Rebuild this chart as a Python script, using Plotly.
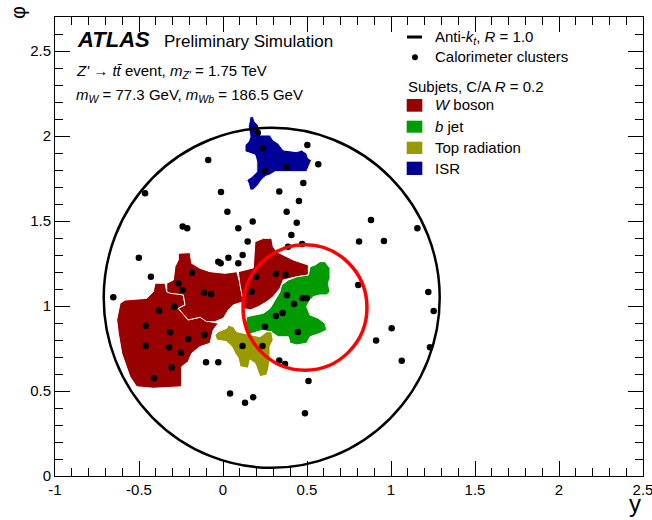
import plotly.graph_objects as go

# ---------------- axes ----------------
x_range = [-1.0, 2.5]
phi_range = [0.0, 2.7]
x_ticks = [-1, -0.5, 0, 0.5, 1, 1.5, 2, 2.5]
x_tick_labels = ["-1", "-0.5", "0", "0.5", "1", "1.5", "2", "2.5"]
phi_ticks = [0, 0.5, 1, 1.5, 2, 2.5]
phi_tick_labels = ["0", "0.5", "1", "1.5", "2", "2.5"]

# ---------------- jets ----------------
jet_center = (0.29, 1.048)      # anti-kt R = 1.0 jet axis (y, phi)
jet_radius = 1.0
ring_center = (0.488, 0.991)    # highlighted b-jet region
ring_radius = 0.369

# ---------------- subjets (cell outlines, y / phi) ----------------
w_sub1_y = [-0.583, -0.454, -0.415, -0.405, -0.345, -0.335, -0.236, -0.226, -0.266, -0.207,
            -0.137, -0.077, -0.028, -0.058, -0.077, -0.137, -0.186, -0.207, -0.246, -0.246,
            -0.415, -0.514, -0.554, -0.583, -0.603, -0.623, -0.633, -0.613]
w_sub1_phi = [1.035, 1.045, 1.084, 1.134, 1.134, 1.084, 1.065, 1.006, 0.986, 0.918,
              0.934, 0.908, 0.898, 0.859, 0.781, 0.761, 0.722, 0.672, 0.643, 0.525,
              0.516, 0.525, 0.584, 0.663, 0.722, 0.839, 0.918, 1.016]

w_sub2_y = [-0.266, -0.196, -0.186, -0.137, -0.077, 0.012, 0.082, 0.101, 0.121, 0.061,
            0.032, 0.002, -0.048, -0.097, -0.137, -0.207, -0.266, -0.226, -0.236, -0.315,
            -0.335, -0.335, -0.296, -0.286, -0.266]
w_sub2_phi = [1.310, 1.314, 1.251, 1.222, 1.202, 1.192, 1.202, 1.134, 1.025, 1.006,
              0.976, 0.928, 0.908, 0.908, 0.934, 0.918, 0.986, 1.006, 1.065, 1.075,
              1.084, 1.134, 1.153, 1.231, 1.271]

w_sub3_y = [0.091, 0.180, 0.190, 0.240, 0.290, 0.299, 0.320, 0.418, 0.508, 0.508,
            0.439, 0.359, 0.339, 0.299, 0.260, 0.210, 0.161, 0.121, 0.121, 0.101]
w_sub3_phi = [1.202, 1.224, 1.378, 1.398, 1.398, 1.349, 1.319, 1.271, 1.241, 1.182,
              1.172, 1.153, 1.104, 1.055, 1.025, 0.996, 0.976, 0.986, 1.025, 1.124]

b_jet_y = [0.548, 0.577, 0.607, 0.637, 0.637, 0.627, 0.637, 0.617, 0.577, 0.538,
           0.518, 0.498, 0.518, 0.567, 0.607, 0.617, 0.577, 0.518, 0.498, 0.439,
           0.399, 0.389, 0.329, 0.299, 0.240, 0.180, 0.141, 0.131, 0.141, 0.190,
           0.240, 0.280, 0.310, 0.339, 0.349, 0.389, 0.439, 0.508, 0.518]
b_jet_phi = [1.241, 1.261, 1.261, 1.222, 1.163, 1.134, 1.084, 1.065, 1.065, 1.055,
             1.035, 0.996, 0.947, 0.928, 0.898, 0.859, 0.839, 0.819, 0.781, 0.771,
             0.781, 0.819, 0.819, 0.839, 0.859, 0.839, 0.829, 0.878, 0.937, 0.947,
             0.957, 0.986, 1.035, 1.084, 1.124, 1.153, 1.172, 1.182, 1.231]

top_rad_y = [-0.028, 0.022, 0.032, 0.061, 0.082, 0.171, 0.220, 0.260, 0.290, 0.299,
             0.280, 0.280, 0.270, 0.260, 0.220, 0.201, 0.190, 0.161, 0.151, 0.101,
             0.091, 0.071, 0.052, 0.022, -0.038, -0.048]
top_rad_phi = [0.849, 0.869, 0.888, 0.878, 0.849, 0.829, 0.819, 0.849, 0.849, 0.800,
               0.761, 0.682, 0.624, 0.594, 0.584, 0.634, 0.663, 0.682, 0.634, 0.643,
               0.692, 0.722, 0.761, 0.790, 0.800, 0.829]

isr_y = [0.131, 0.151, 0.161, 0.151, 0.161, 0.180, 0.190, 0.210, 0.216, 0.220,
         0.280, 0.299, 0.329, 0.359, 0.439, 0.468, 0.498, 0.508, 0.528, 0.508,
         0.498, 0.379, 0.310, 0.280, 0.250, 0.230, 0.210, 0.180, 0.161, 0.151,
         0.141, 0.171, 0.201, 0.201, 0.190, 0.161, 0.131]
isr_phi = [1.947, 1.966, 1.996, 2.055, 2.114, 2.114, 2.084, 2.065, 2.035, 2.006,
           2.006, 1.976, 1.957, 1.918, 1.908, 1.918, 1.898, 1.869, 1.859, 1.810,
           1.790, 1.790, 1.790, 1.771, 1.761, 1.741, 1.712, 1.682, 1.682, 1.722,
           1.741, 1.761, 1.790, 1.849, 1.888, 1.898, 1.908]

# ---------------- calorimeter clusters ----------------
cluster_y = [-0.088, -0.464, -0.012, 0.026, 0.177, 0.091, -0.240, -0.213, 0.147, 0.335,
             0.379, 0.452, 0.439, 0.407, 0.478, 0.567, 0.471, 0.387, 0.881, 0.810,
             0.958, 1.157, 0.805, 1.222, 1.254, 1.004, 0.911, 1.232, 1.064, 0.509,
             0.488, 0.042, 0.131, 0.180, -0.101, -0.028, 0.335, 0.369, -0.501, -0.429,
             -0.653, -0.185, -0.266, -0.241, -0.113, -0.071, -0.380, -0.290, -0.460, -0.315,
             -0.207, -0.111, -0.460, -0.321, -0.250, -0.305, -0.411, 0.116, 0.235, -0.028,
             -0.014, 0.032, 0.091, 0.117, 0.198, 0.315, 0.374, 0.171, 0.250, 0.315,
             0.355, 0.423, 0.381, 0.474, 0.498, 0.446, 0.207, 0.236, 0.250, 0.379,
             0.502]
cluster_phi = [1.859, 1.663, 1.671, 1.555, 1.497, 1.457, 1.467, 1.457, 1.379, 1.674,
               1.555, 1.618, 1.490, 1.418, 1.724, 1.834, 1.365, 1.349, 1.506, 1.379,
               1.382, 1.457, 1.124, 1.082, 0.971, 0.869, 0.797, 0.757, 0.678, 0.559,
               0.369, 0.486, 0.431, 0.463, 0.669, 0.669, 0.679, 0.659, 1.284, 1.172,
               1.051, 1.196, 1.134, 1.094, 1.078, 1.069, 0.972, 0.996, 0.884, 0.845,
               0.806, 0.829, 0.766, 0.757, 0.725, 0.638, 0.575, 0.765, 0.765, 1.261,
               1.251, 1.284, 1.251, 1.300, 1.172, 1.190, 1.182, 1.084, 0.878, 0.941,
               0.959, 1.012, 1.063, 1.045, 1.045, 0.847, 2.019, 1.928, 1.794, 1.818,
               1.947]

# ---------------- colours ----------------
c_w = "#990000"
c_b = "#009b00"
c_top = "#999900"
c_isr = "#000099"

FONT = "Liberation Sans, Arial, Helvetica, sans-serif"

fig = go.Figure()

subjets = [
    (w_sub1_y, w_sub1_phi, c_w),
    (w_sub2_y, w_sub2_phi, c_w),
    (w_sub3_y, w_sub3_phi, c_w),
    (b_jet_y, b_jet_phi, c_b),
    (top_rad_y, top_rad_phi, c_top),
    (isr_y, isr_phi, c_isr),
]
for ys, ps, col in subjets:
    fig.add_trace(go.Scatter(
        x=ys + ys[:1], y=ps + ps[:1], mode="lines", fill="toself",
        fillcolor=col, line=dict(color="white", width=1),
        hoverinfo="skip", showlegend=False))

fig.add_trace(go.Scatter(
    x=cluster_y, y=cluster_phi, mode="markers",
    marker=dict(symbol="circle", size=6.5, color="black"),
    showlegend=False))

# invisible trace to carry the mirrored top / right axes
fig.add_trace(go.Scatter(x=x_range, y=phi_range, xaxis="x2", yaxis="y2", mode="markers",
                         marker=dict(opacity=0), hoverinfo="skip", showlegend=False))

# jet circles, drawn through the data axes
fig.add_shape(type="circle", xref="x", yref="y",
              x0=jet_center[0] - jet_radius, x1=jet_center[0] + jet_radius,
              y0=jet_center[1] - jet_radius, y1=jet_center[1] + jet_radius,
              line=dict(color="black", width=2.5), layer="above")
fig.add_shape(type="circle", xref="x", yref="y",
              x0=ring_center[0] - ring_radius, x1=ring_center[0] + ring_radius,
              y0=ring_center[1] - ring_radius, y1=ring_center[1] + ring_radius,
              line=dict(color="#ff0000", width=3.5), layer="above")

# ---------------- legend (hand-made, ROOT style) ----------------
fig.add_shape(type="line", xref="paper", yref="paper",
              x0=0.5986, x1=0.6241, y0=0.9564, y1=0.9564,
              line=dict(color="black", width=3))
fig.add_shape(type="circle", xref="paper", yref="paper",
              x0=0.6122 - 0.0050, x1=0.6122 + 0.0050, y0=0.9122 - 0.0065, y1=0.9122 + 0.0065,
              fillcolor="black", line=dict(color="black", width=0))
swatches = [(0.7937, 0.8214, c_w), (0.7479, 0.7741, c_b), (0.7015, 0.7283, c_top), (0.6558, 0.6848, c_isr)]
for y0, y1, col in swatches:
    fig.add_shape(type="rect", xref="paper", yref="paper",
                  x0=0.5981, x1=0.6247, y0=y0, y1=y1, fillcolor=col, line=dict(width=0))

legend_items = [
    (0.6429, 0.9564, "Anti-<i>k</i><sub><i>t</i></sub>, <i>R</i> = 1.0"),
    (0.6429, 0.9129, "Calorimeter clusters"),
    (0.5969, 0.8481, "Subjets, C/A <i>R</i> = 0.2"),
    (0.6429, 0.8083, "<i>W</i> boson"),
    (0.6429, 0.7610, "<i>b</i> jet"),
    (0.6429, 0.7146, "Top radiation"),
    (0.6429, 0.6710, "ISR"),
]
for x, y, t in legend_items:
    fig.add_annotation(x=x, y=y, xref="paper", yref="paper", text=t, showarrow=False,
                       xanchor="left", yanchor="middle", font=dict(family=FONT, size=15, color="black"))

# ---------------- labels ----------------
fig.add_annotation(x=0.0340, y=0.9499, xref="paper", yref="paper", text="<b><i>ATLAS</i></b>",
                   showarrow=False, xanchor="left", yanchor="middle",
                   font=dict(family=FONT, size=22, color="black"))
fig.add_annotation(x=0.1815, y=0.9470, xref="paper", yref="paper", text="Preliminary Simulation",
                   showarrow=False, xanchor="left", yanchor="middle",
                   font=dict(family=FONT, size=17, color="black"))
fig.add_annotation(x=0.0323, y=0.8802, xref="paper", yref="paper",
                   text="<i>Z'</i> \u2192 <i>t</i><i>t\u0304</i> event, <i>m</i><sub><i>Z'</i></sub> = 1.75 TeV",
                   showarrow=False, xanchor="left", yanchor="middle",
                   font=dict(family=FONT, size=15, color="black"))
fig.add_annotation(x=0.0323, y=0.8279, xref="paper", yref="paper",
                   text="<i>m</i><sub><i>W</i></sub> = 77.3 GeV, <i>m</i><sub><i>Wb</i></sub> = 186.5 GeV",
                   showarrow=False, xanchor="left", yanchor="middle",
                   font=dict(family=FONT, size=15, color="black"))
# axis titles (ROOT places them at the axis ends)
fig.add_annotation(x=-0.0629, y=1.0087, xref="paper", yref="paper", text="\u03c6",
                   showarrow=False, textangle=-90, xanchor="center", yanchor="middle",
                   font=dict(family=FONT, size=20, color="black"))
fig.add_annotation(x=1.0, y=-0.0600, xref="paper", yref="paper", text="y",
                   showarrow=False, xanchor="right", yanchor="middle",
                   font=dict(family=FONT, size=24, color="black"))

axis_common = dict(
    showgrid=False, zeroline=False, showline=True, linecolor="black", linewidth=1,
    ticks="inside", ticklen=15, tickwidth=1, tickcolor="black", automargin=False,
    minor=dict(ticks="inside", ticklen=8, tickwidth=1, tickcolor="black", dtick=0.1),
    tickfont=dict(family=FONT, size=15, color="black"), ticklabeloverflow="allow",
)
axis_mirror = {k: v for k, v in axis_common.items() if k not in ("tickfont", "ticklabeloverflow")}
fig.update_layout(
    width=652, height=520,
    margin=dict(l=55, r=9, t=17, b=44, autoexpand=False),
    paper_bgcolor="white", plot_bgcolor="white",
    showlegend=False,
    xaxis=dict(range=x_range, tickmode="array", tickvals=x_ticks, ticktext=x_tick_labels,
               **axis_common),
    yaxis=dict(range=phi_range, tickmode="array", tickvals=phi_ticks, ticktext=phi_tick_labels,
               **axis_common),
    xaxis2=dict(range=x_range, overlaying="x", side="top", anchor="y2", tickmode="array",
                tickvals=x_ticks, showticklabels=False, **axis_mirror),
    yaxis2=dict(range=phi_range, overlaying="y", side="right", anchor="x2", tickmode="array",
                tickvals=phi_ticks, showticklabels=False, **axis_mirror),
)

fig.write_html("out.html", config={"displayModeBar": False},
               post_script="document.body.style.margin='0';document.body.style.padding='0';")
